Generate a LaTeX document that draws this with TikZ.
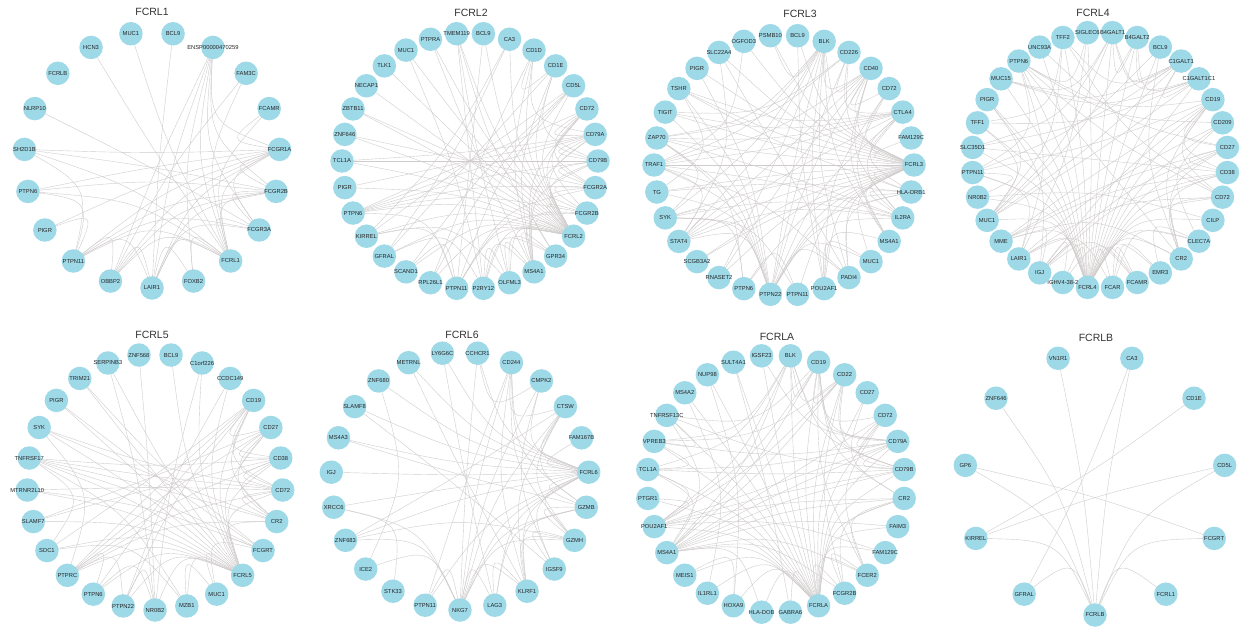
\documentclass[tikz,border=0pt]{standalone}
\usepackage{fontspec}
\setmainfont{Liberation Sans}
\usetikzlibrary{calc,backgrounds}
\definecolor{genefill}{RGB}{158,217,232}
\definecolor{linkgray}{RGB}{208,204,204}
\tikzset{
  gene/.style={circle, fill=genefill, minimum size=23.5pt, inner sep=0pt},
  genetext/.style={font=\fontsize{5.8}{6}\selectfont, text=black!85, inner sep=0pt},
  ptitle/.style={font=\fontsize{10.5}{12}\selectfont, text=black!80},
  link/.style={draw=linkgray, line width=.4pt}
}
% ring of genes: prefix, centre, radius, count, first angle, names (clockwise)
\newcommand\genering[6]{%
  \coordinate (#1O) at #2;
  \foreach \g [count=\i] in {#6}
    \node[gene, label={[genetext]center:\g}] (#1\i) at ($(#1O)+({#5-(\i-1)*360/#4}:#3pt)$) {};
}
% curved links between ring members
\newcommand\genelinks[2]{%
  \begin{scope}[on background layer]
  \foreach \x/\y in {#2}
    \draw[link] (#1\x.center) .. controls ($.3*(#1\x)+.3*(#1\y)+.4*(#1O)$) .. (#1\y.center);
  \end{scope}
}
\begin{document}
\begin{tikzpicture}[x=1pt,y=-1pt]
\begin{scope}[on background layer]
\fill[white] (0,0) rectangle (1241,628);
\end{scope}
\useasboundingbox (0,0) rectangle (1241,628);

% FCRL1
\node[ptitle] (t1) at (152,12) {FCRL1};
\genering{a}{(152,160)}{128}{19}{80.53}{BCL9,ENSP00000470259,FAM3C,FCAMR,FCGR1A,FCGR2B,FCGR3A,FCRL1,FOXB2,LAIR1,OBBP2,PTPN11,PIGR,PTPN6,SH2D1B,NLRP10,FCRLB,HCN3,MUC1}
\genelinks{a}{8/19,8/18,8/2,8/4,8/5,8/6,8/7,8/9,8/10,8/11,8/12,8/14,8/15,8/3,
  2/5,2/6,2/7,2/11,2/9,2/10,5/4,5/6,5/7,5/12,5/14,5/13,5/15,5/10,5/11,
  6/7,6/15,6/12,6/11,6/10,6/14,7/16,7/12,7/10,1/10,12/10,12/11,12/14,12/15,12/13,3/11,10/11,10/9}

% FCRL2
\node[ptitle] (t2) at (471,13) {FCRL2};
\genering{b}{(470,161)}{128}{30}{96}{TMEM119,BCL9,CA3,CD1D,CD1E,CD5L,CD72,CD79A,CD79B,FCGR2A,FCGR2B,FCRL2,GPR34,MS4A1,OLFML3,P2RY12,PTPN11,RPL26L1,SCAND1,GFRAL,KIRREL,PTPN6,PIGR,TCL1A,ZNF646,ZBTB11,NECAP1,TLK1,MUC1,PTPRA}
\genelinks{b}{12/1,12/2,12/3,12/4,12/5,12/6,12/7,12/8,12/9,12/10,12/11,12/13,12/14,12/15,12/16,12/17,12/18,12/19,12/20,12/21,12/22,12/23,12/24,12/25,12/26,12/27,12/28,12/29,12/30,
  1/16,1/15,1/13,16/15,16/13,15/13,14/8,14/9,14/7,8/9,8/7,9/7,10/11,11/22,11/17,8/22,9/22,7/22,4/5,4/14,5/14,4/8,5/9,
  6/17,6/21,6/19,4/18,5/20,3/20,24/9,24/8,23/8,22/17,21/17,3/21,2/17,26/11,8/10,9/10,7/10,7/11,14/11,17/10,22/10,
  13/14,15/14,16/14,30/14,29/16,25/10,6/18,19/17,20/16,21/15}

% FCRL3
\node[ptitle] (t3) at (800,14) {FCRL3};
\genering{c}{(784,165)}{130}{30}{84}{BCL9,BLK,CD226,CD40,CD72,CTLA4,FAM129C,FCRL3,HLA-DRB1,IL2RA,MS4A1,MUC1,PADI4,POU2AF1,PTPN11,PTPN22,PTPN6,RNASET2,SCGB3A2,STAT4,SYK,TG,TRAF1,ZAP70,TIGIT,TSHR,PIGR,SLC22A4,OGFOD3,PSMB10}
\genelinks{c}{8/1,8/2,8/3,8/4,8/5,8/6,8/7,8/9,8/10,8/11,8/12,8/13,8/14,8/15,8/16,8/17,8/18,8/19,8/20,8/21,8/22,8/23,8/24,8/25,8/26,8/27,8/28,8/29,8/30,
  16/6,16/10,16/20,16/23,16/13,16/2,16/4,16/3,16/9,16/21,16/24,16/26,16/22,6/10,6/20,6/23,6/4,6/3,6/9,6/26,6/24,6/25,
  10/20,10/23,10/4,10/9,10/24,10/21,20/23,20/4,20/2,20/21,23/4,23/2,23/13,13/28,13/2,13/9,2/11,2/14,2/21,2/4,2/24,
  4/3,4/11,4/5,3/25,3/24,9/26,9/22,26/22,21/24,21/17,24/17,17/15,11/14,11/5,5/14,18/4,18/2,19/9,27/16,28/20,15/21,
  14/12,30/2,29/23,1/14,12/16,25/16}

% FCRL4
\node[ptitle] (t4) at (1093,13) {FCRL4};
\genering{d}{(1100,160)}{128}{32}{84.375}{B4GALT1,B4GALT2,BCL9,C1GALT1,C1GALT1C1,CD19,CD209,CD27,CD38,CD72,CILP,CLEC7A,CR2,EMR3,FCAMR,FCAR,FCRL4,IGHV4-38-2,IGJ,LAIR1,MME,MUC1,NR0B2,PTPN11,SLC35D1,TFF1,PIGR,MUC15,PTPN6,UNC93A,TFF2,SIGLEC6}
\genelinks{d}{17/1,17/2,17/3,17/4,17/5,17/6,17/7,17/8,17/9,17/10,17/11,17/12,17/13,17/14,17/15,17/16,17/18,17/19,17/20,17/21,17/22,17/23,17/24,17/25,17/26,17/27,17/28,17/29,17/30,17/31,17/32,
  1/2,1/4,1/5,2/4,2/5,4/5,1/22,2/22,4/22,5/22,1/28,4/28,5/28,22/26,22/31,26/31,1/25,4/25,27/22,27/19,5/26,4/31,
  6/8,6/9,6/10,6/13,6/21,6/29,6/24,8/9,8/13,8/21,8/19,9/19,9/21,9/13,10/13,10/29,10/20,13/21,13/29,16/15,16/12,
  16/20,16/14,15/19,15/18,20/29,20/24,29/24,12/7,7/29,7/20,14/12,32/29,32/20,3/24,18/19,19/21,11/23,23/24,25/9,
  6/19,30/8,31/10,3/13}

% FCRL5
\node[ptitle] (t5) at (152,335) {FCRL5};
\genering{e}{(155,482)}{128}{25}{82.8}{BCL9,C1orf226,CCDC149,CD19,CD27,CD38,CD72,CR2,FCGRT,FCRL5,MUC1,MZB1,NR0B2,PTPN22,PTPN6,PTPRC,SDC1,SLAMF7,MTRNR2L10,TNFRSF17,SYK,PIGR,TRIM21,SERPINB3,ZNF568}
\genelinks{e}{10/1,10/2,10/3,10/4,10/5,10/6,10/7,10/8,10/9,10/11,10/12,10/13,10/14,10/15,10/16,10/17,10/18,10/19,10/20,10/21,10/22,10/23,10/24,
  4/5,4/6,4/7,4/8,4/16,4/17,4/15,4/14,5/6,5/7,5/8,5/16,5/18,6/7,6/8,6/18,6/20,6/16,7/8,7/16,7/20,8/16,8/20,8/21,
  9/20,9/11,12/20,12/17,13/15,13/14,14/16,15/16,16/21,17/20,21/7,19/7,19/9,22/9,11/12,2/13,3/14,23/9,24/13,25/13}

% FCRL6
\node[ptitle] (t6) at (462,335) {FCRL6};
\genering{f}{(460,481)}{129}{23}{82.17}{CCHCR1,CD244,CMPK2,CTSW,FAM167B,FCRL6,GZMB,GZMH,IGSF9,KLRF1,LAG3,NKG7,PTPN11,STK33,ICE2,ZNF683,XRCC6,IGJ,MS4A3,SLAMF8,ZNF680,METRNL,LY6G6C}
\genelinks{f}{6/1,6/2,6/3,6/4,6/5,6/7,6/8,6/9,6/10,6/11,6/12,6/13,6/16,6/17,6/18,6/19,6/20,6/21,6/22,6/23,
  2/4,2/7,2/8,2/10,2/12,4/7,4/8,4/10,4/12,4/16,7/8,7/10,7/12,7/11,8/10,8/12,8/16,10/12,12/11,12/13,12/15,16/12,
  11/10,1/3,1/12,3/9,3/12,9/8,14/17,15/21,20/9,22/10,23/11,19/7,17/12,13/2}

% FCRLA
\node[ptitle] (t7) at (777,337) {FCRLA};
\genering{g}{(776,484)}{129}{28}{83.57}{BLK,CD19,CD22,CD27,CD72,CD79A,CD79B,CR2,FAIM3,FAM129C,FCER2,FCGR2B,FCRLA,GABRA6,HLA-DOB,HOXA9,IL1RL1,MEIS1,MS4A1,POU2AF1,PTGR1,TCL1A,VPREB3,TNFRSF13C,MS4A2,NUP98,SULT4A1,IGSF23}
\genelinks{g}{13/1,13/2,13/3,13/4,13/5,13/6,13/7,13/8,13/9,13/10,13/11,13/12,13/14,13/15,13/16,13/17,13/18,13/19,13/20,13/21,13/22,13/23,13/24,13/25,13/26,13/27,13/28,
  1/2,1/3,1/6,1/7,1/19,1/20,1/23,1/22,2/3,2/5,2/6,2/7,2/8,2/11,2/19,2/20,2/24,3/6,3/7,3/19,3/20,3/12,3/23,
  5/6,5/7,5/19,5/11,6/7,6/19,6/20,6/22,6/23,7/19,7/20,7/22,7/24,8/11,8/12,8/19,8/20,11/12,11/19,12/19,19/20,
  19/22,20/22,22/23,23/24,24/19,9/19,15/19,10/20,4/8,18/16,26/16,21/20,17/25,14/27,28/6}

% FCRLB
\node[ptitle] (t8) at (1096,338) {FCRLB};
\genering{h}{(1095,484)}{131}{11}{73.64}{CA3,CD1E,CD5L,FCGRT,FCRL1,FCRLB,GFRAL,KIRREL,GP6,ZNF646,VN1R1}
\genelinks{h}{6/11,6/1,6/10,6/9,6/3,6/8,6/7,6/5,6/4,1/7,2/8,3/8,9/4}
\end{tikzpicture}
\end{document}
